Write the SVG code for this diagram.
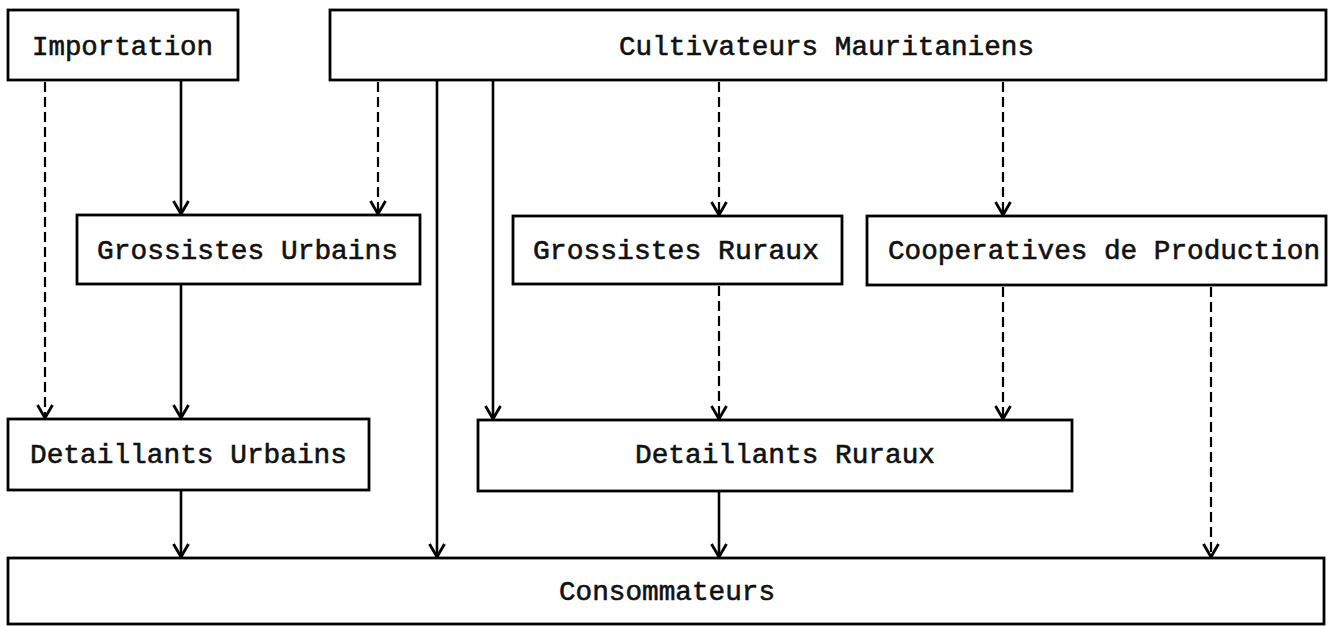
<svg xmlns="http://www.w3.org/2000/svg" width="1336" height="626" viewBox="0 0 1336 626">
<style>
.box{fill:#fff;stroke:#000;stroke-width:2.8}
.lbl{font-family:"Liberation Mono","Courier New",monospace;font-size:28px;fill:#111;stroke:#111;stroke-width:0.6}
.s{stroke:#000;stroke-width:2.6;fill:none}
.d{stroke:#000;stroke-width:2.2;fill:none;stroke-dasharray:10 5}
.ah{stroke:#000;stroke-width:2.8;fill:none;stroke-linejoin:miter}
</style>
<defs>
<path id="head" d="M-7.5,-13 L0,0 L7.5,-13" class="ah"/>
</defs>
<rect width="1336" height="626" fill="#fff"/>
<g id="connectors">
<line class="d" x1="45" y1="82" x2="45" y2="418"/>
<line class="s" x1="181" y1="80" x2="181" y2="214"/>
<line class="d" x1="378" y1="82" x2="378" y2="214"/>
<line class="s" x1="437" y1="80" x2="437" y2="557"/>
<line class="s" x1="493" y1="80" x2="493" y2="419"/>
<line class="d" x1="719" y1="82" x2="719" y2="215"/>
<line class="d" x1="1003" y1="82" x2="1003" y2="215"/>
<line class="s" x1="181" y1="284" x2="181" y2="418"/>
<line class="d" x1="719" y1="286" x2="719" y2="419"/>
<line class="d" x1="1003" y1="287" x2="1003" y2="419"/>
<line class="d" x1="1211" y1="287" x2="1211" y2="557"/>
<line class="s" x1="181" y1="490" x2="181" y2="557"/>
<line class="s" x1="719" y1="491" x2="719" y2="557"/>
<use href="#head" x="45" y="418"/>
<use href="#head" x="181" y="214"/>
<use href="#head" x="378" y="214"/>
<use href="#head" x="437" y="557"/>
<use href="#head" x="493" y="419"/>
<use href="#head" x="719" y="215"/>
<use href="#head" x="1003" y="215"/>
<use href="#head" x="181" y="418"/>
<use href="#head" x="719" y="419"/>
<use href="#head" x="1003" y="419"/>
<use href="#head" x="1211" y="557"/>
<use href="#head" x="181" y="557"/>
<use href="#head" x="719" y="557"/>
</g>
<g id="importation">
<rect class="box" x="8" y="10" width="230" height="70"/>
<text class="lbl" x="32" y="55" textLength="181" lengthAdjust="spacingAndGlyphs">Importation</text>
</g>
<g id="cultivateurs">
<rect class="box" x="330" y="10" width="996" height="70"/>
<text class="lbl" x="619" y="55" textLength="415" lengthAdjust="spacingAndGlyphs">Cultivateurs Mauritaniens</text>
</g>
<g id="grossistes-urbains">
<rect class="box" x="77" y="215" width="343" height="69"/>
<text class="lbl" x="97" y="259" textLength="301" lengthAdjust="spacingAndGlyphs">Grossistes Urbains</text>
</g>
<g id="grossistes-ruraux">
<rect class="box" x="513" y="216" width="329" height="68"/>
<text class="lbl" x="533" y="259" textLength="286" lengthAdjust="spacingAndGlyphs">Grossistes Ruraux</text>
</g>
<g id="cooperatives">
<rect class="box" x="867" y="216" width="459" height="69"/>
<text class="lbl" x="888" y="259" textLength="432" lengthAdjust="spacingAndGlyphs">Cooperatives de Production</text>
</g>
<g id="detaillants-urbains">
<rect class="box" x="8" y="419" width="361" height="71"/>
<text class="lbl" x="30" y="463" textLength="317" lengthAdjust="spacingAndGlyphs">Detaillants Urbains</text>
</g>
<g id="detaillants-ruraux">
<rect class="box" x="478" y="420" width="594" height="71"/>
<text class="lbl" x="635" y="463" textLength="300" lengthAdjust="spacingAndGlyphs">Detaillants Ruraux</text>
</g>
<g id="consommateurs">
<rect class="box" x="8" y="558" width="1316" height="66"/>
<text class="lbl" x="559" y="600" textLength="216" lengthAdjust="spacingAndGlyphs">Consommateurs</text>
</g>
</svg>
